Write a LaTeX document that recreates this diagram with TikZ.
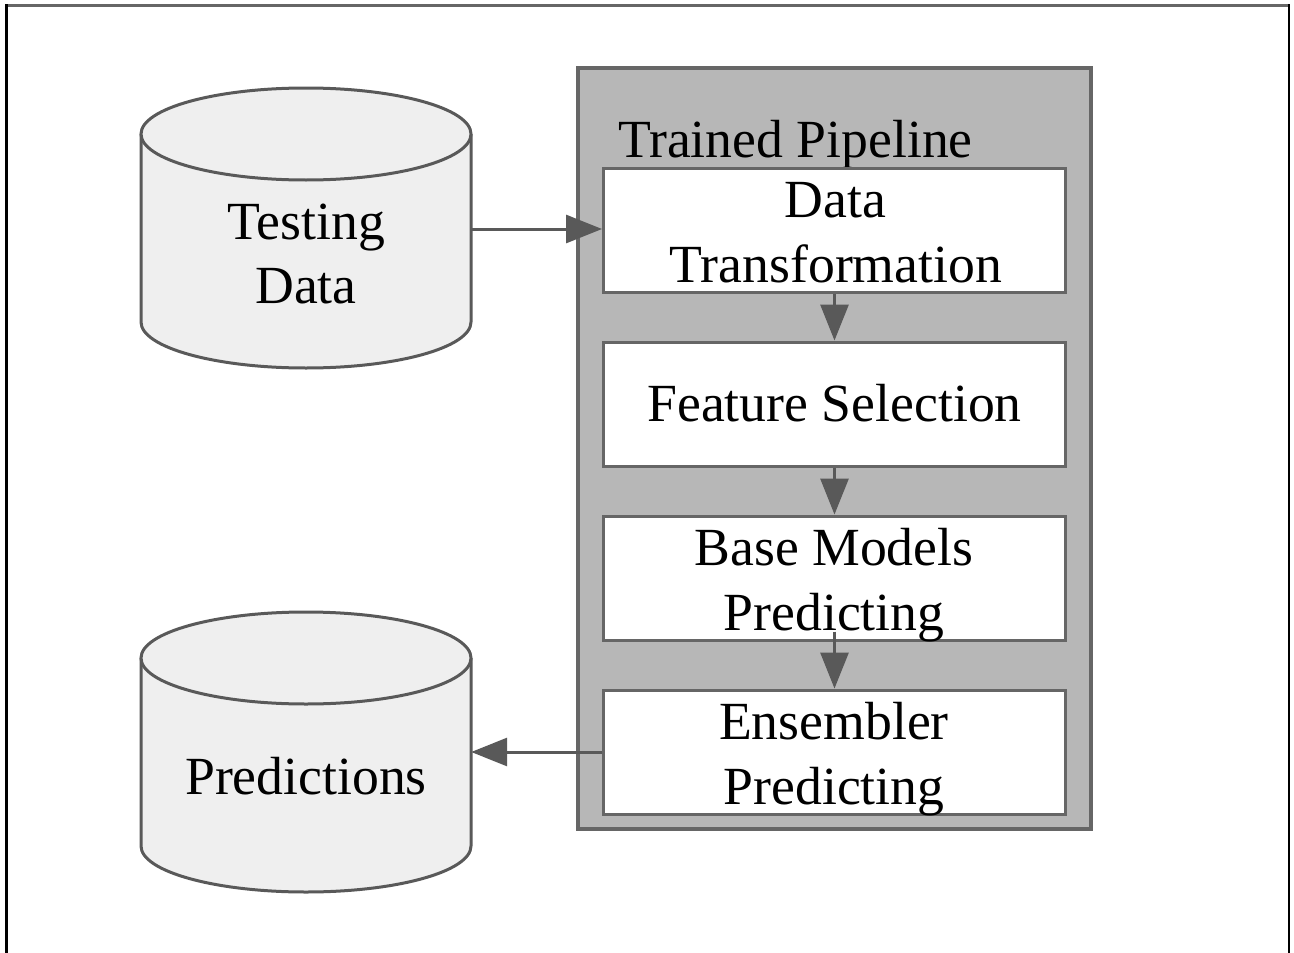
\documentclass[tikz,border=0pt]{standalone}
\usepackage{fontspec}
\setmainfont{Liberation Serif}
\usetikzlibrary{arrows.meta}
\definecolor{cylfill}{HTML}{EFEFEF}
\definecolor{edgegray}{HTML}{595959}
\definecolor{panelfill}{HTML}{B7B7B7}
\definecolor{paneledge}{HTML}{666666}
\begin{document}
\begin{tikzpicture}[x=1pt,y=-1pt,
  txt/.style={font=\fontsize{53.7}{64}\selectfont, text=black, inner sep=0pt, anchor=base},
  stepbox/.style={draw=paneledge, line width=3pt, fill=white, minimum width=462pt, minimum height=124pt, inner sep=0pt},
  flow/.style={draw=edgegray, line width=3pt, -{Triangle[length=36pt,width=28pt]}},
  cylline/.style={draw=edgegray, line width=3pt},
  holder/.style={minimum width=330pt, minimum height=280pt, inner sep=0pt}]
\useasboundingbox (0,0) rectangle (1294,953);
% frame
\draw[paneledge, line width=2.2pt] (6.5,5.5) -- (1289,5.5);
\draw[black, line width=2.2pt] (6.5,953) -- (6.5,4.4);
\draw[black, line width=2.2pt] (1289,953) -- (1289,4.4);

% cylinders (shapes drawn directly)
\foreach \dy in {0,524}{
  \begin{scope}[shift={(0,\dy)}]
    \fill[cylfill] (141,134) rectangle (471,322);
    \fill[cylfill] (306,322) ellipse[x radius=165pt, y radius=46pt];
    \draw[cylline] (141,134) -- (141,322) arc[start angle=180, end angle=360, x radius=165pt, y radius=46pt] -- (471,134);
    \draw[cylline, fill=cylfill] (306,134) ellipse[x radius=165pt, y radius=46pt];
  \end{scope}
}
\node[holder] (td) at (306,229) {};
\node[holder] (pr) at (306,752) {};
\node[txt] (tdA) at (306.5,239) {Testing};
\node[txt] (tdB) at (306,303) {Data};
\node[txt] (prA) at (306,794) {Predictions};

% pipeline panel
\node[draw=paneledge, fill=panelfill, line width=4pt, minimum width=513pt, minimum height=761pt, inner sep=0pt] (pipe) at (834.5,448.5) {};
\node[txt, anchor=base west] (pipelabel) at (618,157) {Trained Pipeline};

\node[stepbox] (b1) at (834.5,230) {};
\node[stepbox] (b2) at (834.5,404) {};
\node[stepbox] (b3) at (834.5,578) {};
\node[stepbox] (b4) at (834.5,752) {};

\node[txt] (b1A) at (835.5,217) {Data};
\node[txt] (b1B) at (836,282) {Transformation};
\node[txt] (b2A) at (834.5,421) {Feature Selection};
\node[txt] (b3A) at (834,565) {Base Models};
\node[txt] (b3B) at (834,630) {Predicting};
\node[txt] (b4A) at (834,739) {Ensembler};
\node[txt] (b4B) at (834,804) {Predicting};

% connectors
\draw[flow] (td.east) -- (td.east -| b1.west);
\draw[flow] (b1.south) -- (b2.north);
\draw[flow] (b2.south) -- (b3.north);
\draw[flow] ([yshift=10pt]b3.south) -- (b4.north);
\draw[flow] (b4.west) -- (b4.west -| pr.east);
\end{tikzpicture}
\end{document}
